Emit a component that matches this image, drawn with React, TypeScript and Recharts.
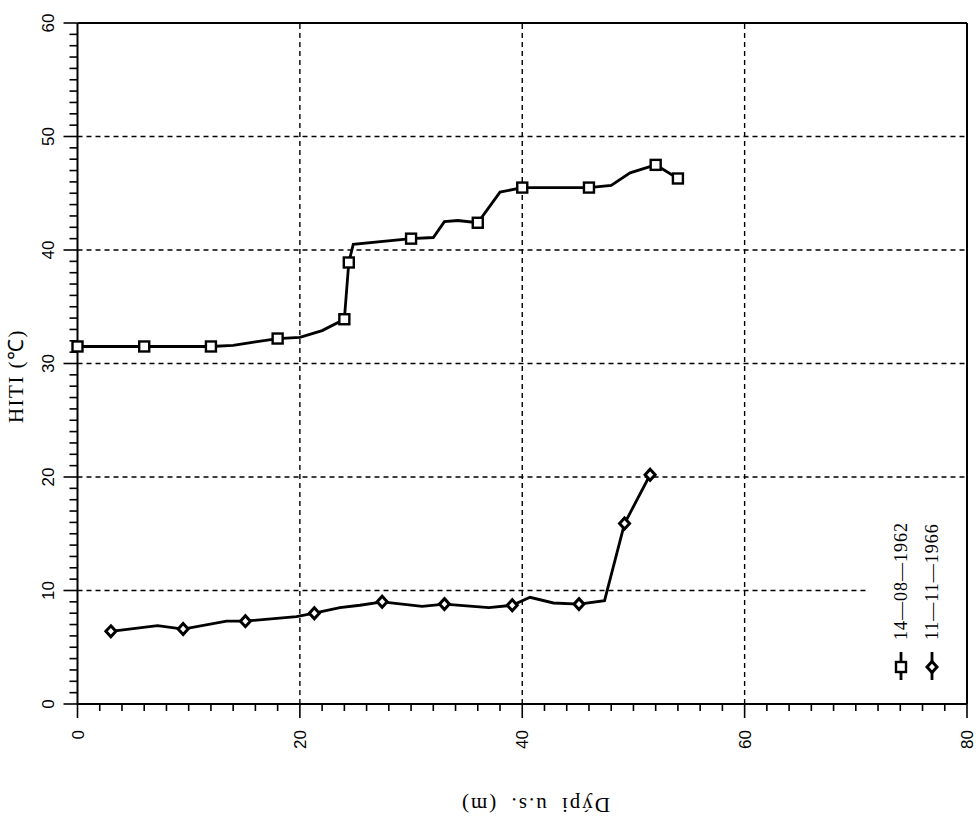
import React from 'react';
import { ComposedChart, Line, Scatter, XAxis, YAxis, ReferenceLine, Legend } from 'recharts';

// 14-08-1962 — traced curve and measured points
const depth1962 = [0, 6, 12, 14, 16, 18, 20, 22, 24, 24.4, 24.8, 30, 32, 33, 34.2, 36, 38, 40, 46, 48, 49.7, 52, 54];
const temp1962 = [31.5, 31.5, 31.5, 31.6, 31.9, 32.2, 32.3, 32.9, 33.9, 38.9, 40.5, 41.0, 41.1, 42.5, 42.6, 42.4, 45.1, 45.5, 45.5, 45.7, 46.8, 47.5, 46.3];
const markDepth1962 = [0, 6, 12, 18, 24, 24.4, 30, 36, 40, 46, 52, 54];
const markTemp1962 = [31.5, 31.5, 31.5, 32.2, 33.9, 38.9, 41.0, 42.4, 45.5, 45.5, 47.5, 46.3];

// 11-11-1966
const depth1966 = [3.0, 7.2, 9.5, 13.4, 15.1, 19.7, 21.3, 23.6, 25.4, 27.4, 31.0, 33.0, 37.0, 39.1, 40.7, 42.8, 45.1, 47.4, 49.2, 51.5];
const temp1966 = [6.4, 6.9, 6.6, 7.3, 7.3, 7.7, 8.0, 8.5, 8.7, 9.0, 8.6, 8.8, 8.5, 8.7, 9.4, 8.9, 8.8, 9.1, 15.9, 20.2];
const markDepth1966 = [3.0, 9.5, 15.1, 21.3, 27.4, 33.0, 39.1, 45.1, 49.2, 51.5];
const markTemp1966 = [6.4, 6.6, 7.3, 8.0, 9.0, 8.8, 8.7, 8.8, 15.9, 20.2];

const seriesNames = ['14—08—1962', '11—11—1966'];

const xTicks = Array.from({ length: 41 }, (_, i) => i * 2);
const yTicks = Array.from({ length: 61 }, (_, i) => i);
const xGrid = [20, 40, 60];
const yGrid = [20, 30, 40, 50];

const toRows = (d: number[], t: number[]) => d.map((v, i) => ({ d: v, t: t[i] }));
const curve1962 = toRows(depth1962, temp1962);
const curve1966 = toRows(depth1966, temp1966);
const pts1962 = toRows(markDepth1962, markTemp1962);
const pts1966 = toRows(markDepth1966, markTemp1966);

const SANS = '"Liberation Sans", Arial, sans-serif';
const SERIF = '"Liberation Serif", "Times New Roman", serif';

const Square = ({ cx, cy }: any) => (
  <rect x={cx - 5} y={cy - 5} width={10} height={10} fill="#fff" stroke="#000" strokeWidth={2.4} />
);
const Diamond = ({ cx, cy }: any) => (
  <path d={`M${cx},${cy - 5.5}L${cx + 5},${cy}L${cx},${cy + 5.5}L${cx - 5},${cy}Z`} fill="#fff" stroke="#000" strokeWidth={3} />
);
const markers = [Square, Diamond];

const BottomTick = ({ x, y, payload }: any) => {
  const major = payload.value % 20 === 0;
  return (
    <g>
      <line x1={x} y1={y} x2={x} y2={y + (major ? 14 : 7)} stroke="#000" strokeWidth={1.6} />
      {major && (
        <text x={x + 6} y={y + 26} transform={`rotate(-90 ${x + 6} ${y + 26})`} textAnchor="end"
          fontSize={17} fontFamily={SANS} fill="#000">{payload.value}</text>
      )}
    </g>
  );
};

const TopTick = ({ x, y, payload }: any) => {
  const major = payload.value % 20 === 0;
  return <line x1={x} y1={y} x2={x} y2={y - (major ? 14 : 7)} stroke="#000" strokeWidth={1.6} />;
};

const LeftTick = ({ x, y, payload }: any) => {
  const major = payload.value % 10 === 0;
  return (
    <g>
      <line x1={x} y1={y} x2={x - (major ? 14 : 8)} y2={y} stroke="#000" strokeWidth={1.6} />
      {major && (
        <text x={x - 24} y={y} transform={`rotate(-90 ${x - 24} ${y})`} textAnchor="middle"
          fontSize={17} fontFamily={SANS} fill="#000">{payload.value}</text>
      )}
    </g>
  );
};

const RightTick = ({ x, y, payload }: any) => {
  const major = payload.value % 10 === 0;
  return <line x1={x} y1={y} x2={x + (major ? 12 : 8)} y2={y} stroke="#000" strokeWidth={1.6} />;
};

const renderLegend = () => (
  <svg width={90} height={200}>
    {seriesNames.map((name, i) => {
      const cx = 33 + i * 31;
      const Marker = markers[i];
      return (
        <g key={name}>
          <line x1={cx} y1={152} x2={cx} y2={180} stroke="#000" strokeWidth={2.8} />
          <Marker cx={cx} cy={167} />
          <text x={cx + 6} y={140} transform={`rotate(-90 ${cx + 6} 140)`} fontSize={18}
            fontFamily={SERIF} letterSpacing={1} fill="#000">{name}</text>
        </g>
      );
    })}
  </svg>
);

const gridStyle = { stroke: '#000', strokeDasharray: '5 4', strokeWidth: 1.4 };
const axisLine = { stroke: '#000', strokeWidth: 2 };

export default function App() {
  return (
    <div style={{ position: 'absolute', left: 0, top: 0, width: 978, height: 822, background: '#fff' }}>
      <ComposedChart width={978} height={822} margin={{ top: 22, right: 10, bottom: 117, left: 76.5 }}>
        <XAxis dataKey="d" type="number" domain={[0, 80]} ticks={xTicks} interval={0} height={1}
          tickSize={0} tickMargin={0} tickLine={false} tick={BottomTick} axisLine={axisLine} />
        <XAxis xAxisId="top" orientation="top" dataKey="d" type="number" domain={[0, 80]} ticks={xTicks}
          interval={0} height={1} tickSize={0} tickMargin={0} tickLine={false} tick={TopTick}
          axisLine={axisLine} />
        <YAxis type="number" domain={[0, 60]} ticks={yTicks} interval={0} width={1}
          tickSize={0} tickMargin={0} tickLine={false} tick={LeftTick} axisLine={axisLine} />
        <YAxis yAxisId="right" orientation="right" type="number" domain={[0, 60]} ticks={yTicks}
          interval={0} width={1} tickSize={0} tickMargin={0} tickLine={false} tick={RightTick}
          axisLine={axisLine} />

        {xGrid.map((v) => <ReferenceLine key={`x${v}`} x={v} {...gridStyle} />)}
        {yGrid.map((v) => <ReferenceLine key={`y${v}`} y={v} {...gridStyle} />)}
        <ReferenceLine segment={[{ x: 0, y: 10 }, { x: 71, y: 10 }]} {...gridStyle} />

        <Line data={curve1962} dataKey="t" name={seriesNames[0]} type="linear" stroke="#000"
          strokeWidth={2.8} dot={false} isAnimationActive={false} />
        <Line data={curve1966} dataKey="t" name={seriesNames[1]} type="linear" stroke="#000"
          strokeWidth={2.8} dot={false} isAnimationActive={false} />
        <Scatter data={pts1962} dataKey="t" shape={Square} legendType="none" isAnimationActive={false} />
        <Scatter data={pts1966} dataKey="t" shape={Diamond} legendType="none" isAnimationActive={false} />

        <Legend layout="vertical" align="center" verticalAlign="middle" content={renderLegend}
          wrapperStyle={{ position: 'absolute', left: 868, top: 500, width: 90, height: 200 }} />
      </ComposedChart>

      <svg width={978} height={822} style={{ position: 'absolute', left: 0, top: 0, pointerEvents: 'none' }}>
        <text x={23} y={376} transform="rotate(-90 23 376)" textAnchor="middle" fontSize={21}
          fontFamily={SERIF} letterSpacing={1.5} fill="#000">HITI (℃)</text>
        <text x={535} y={798} transform="rotate(180 535 798)" textAnchor="middle" fontSize={21}
          fontFamily={SERIF} letterSpacing={2} wordSpacing={6} fill="#000">Dýpi u.s. (m)</text>
      </svg>
    </div>
  );
}
